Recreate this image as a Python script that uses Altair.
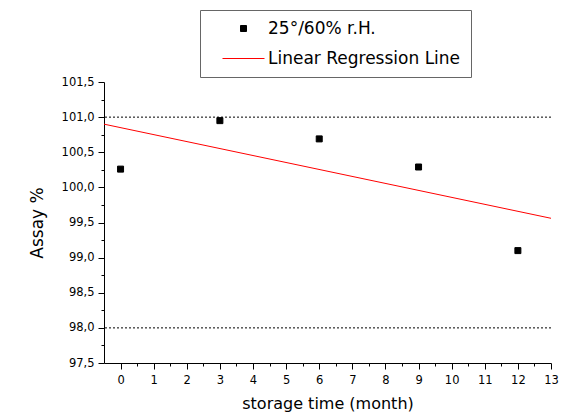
import altair as alt
import pandas as pd

# ---- data ----
months = [0, 3, 6, 9, 12]
assay = [100.26, 100.95, 100.69, 100.29, 99.10]
fit_x = [-0.5, 13]
fit_y = [100.90, 99.56]
limit_lines = [98.0, 101.0]
series = ["25°/60% r.H.", "Linear Regression Line"]
x_major = list(range(0, 14))
x_minor = [0.5, 1.5, 2.5, 3.5, 4.5, 5.5, 6.5, 7.5, 8.5, 9.5, 10.5, 11.5, 12.5]
y_major = [97.5, 98.0, 98.5, 99.0, 99.5, 100.0, 100.5, 101.0, 101.5]
y_minor = [97.75, 98.25, 98.75, 99.25, 99.75, 100.25, 100.75, 101.25]

pts = pd.DataFrame({"month": months, "assay": assay, "series": series[0]})
fit = pd.DataFrame({"x": fit_x, "y": fit_y})
lim = pd.DataFrame({"y": limit_lines})

FONT = "DejaVu Sans"
xscale = alt.Scale(domain=[-0.5, 13], nice=False, zero=False)
yscale = alt.Scale(domain=[97.5, 101.5], nice=False, zero=False)

common = dict(grid=False, domainColor="black", tickColor="black", labelColor="black",
              titleColor="black", labelFont=FONT, titleFont=FONT, titleFontWeight="normal",
              labelOverlap=False, labelFlush=False)

x_major_axis = alt.Axis(orient="bottom", values=x_major, tickSize=6, labelPadding=5,
                        labelFontSize=11.5, title="storage time (month)", titleFontSize=16,
                        titlePadding=10, **common)
y_major_axis = alt.Axis(orient="left", values=y_major, tickSize=6, labelPadding=4,
                        labelFontSize=11.5, title="Assay %", titleFontSize=17, titlePadding=15,
                        labelExpr="replace(format(datum.value, '.1f'), '.', ',')", **common)
x_minor_axis = alt.Axis(orient="bottom", values=x_minor, tickSize=3, labels=False, domain=False,
                        title=None, grid=False, tickColor="black")
y_minor_axis = alt.Axis(orient="left", values=y_minor, tickSize=3, labels=False, domain=False,
                        title=None, grid=False, tickColor="black")

legend = alt.Legend(title=None, orient="none", legendX=96, legendY=-72, padding=10,
                    strokeColor="#666666", fillColor="white", symbolSize=36,
                    symbolStrokeWidth=1, symbolOffset=25, labelOffset=16, labelFont=FONT,
                    labelFontSize=17, labelColor="black", rowPadding=12, labelLimit=400,
                    labelExpr="datum.label + '\u00a0\u00a0\u00a0'")

colour_scale = alt.Scale(domain=series, range=["black", "red"])
shape_scale = alt.Scale(domain=series, range=["square", "M-7,0H7"])

rules = alt.Chart(lim).mark_rule(color="black", strokeDash=[2, 2], strokeWidth=1).encode(
    y=alt.Y("y:Q", scale=yscale, axis=None)
)

line = alt.Chart(fit).mark_line(color="red", strokeWidth=1).encode(
    x=alt.X("x:Q", scale=xscale, axis=x_minor_axis),
    y=alt.Y("y:Q", scale=yscale, axis=y_minor_axis),
)

points = alt.Chart(pts).mark_point(filled=True, size=36, strokeWidth=1, opacity=1).encode(
    x=alt.X("month:Q", scale=xscale, axis=x_major_axis),
    y=alt.Y("assay:Q", scale=yscale, axis=y_major_axis),
    fill=alt.Fill("series:N", scale=colour_scale, legend=legend),
    stroke=alt.Stroke("series:N", scale=colour_scale, legend=legend),
    shape=alt.Shape("series:N", scale=shape_scale, legend=legend),
)

chart = (
    alt.layer(rules, line, points)
    .resolve_axis(x="independent", y="independent")
    .properties(width=447, height=281,
                autosize=alt.AutoSizeParams(type="none"),
                padding={"left": 96, "top": 74, "right": 8, "bottom": 49},
                background="white")
    .configure_view(stroke=None)
)

chart.save("out.html", embed_options={"renderer": "svg", "actions": False})
